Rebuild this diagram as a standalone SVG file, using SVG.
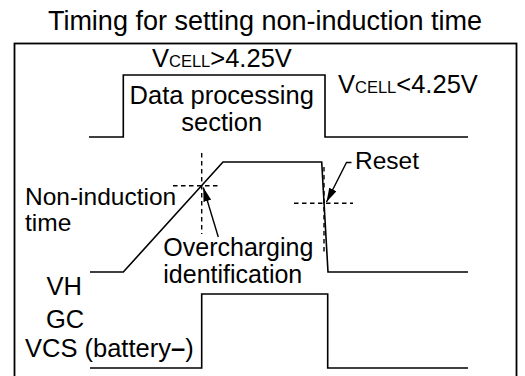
<svg xmlns="http://www.w3.org/2000/svg" width="525" height="376" viewBox="0 0 525 376">
<defs>
<style>
text{font-family:"Liberation Sans",Arial,Helvetica,sans-serif;font-size:25.5px;fill:#000}
.w{fill:none;stroke:#000;stroke-width:1.6;stroke-linejoin:miter}
.d{fill:none;stroke:#000;stroke-width:1.4;stroke-dasharray:4.5 3.5}
.a{fill:none;stroke:#000;stroke-width:1.4}
.sc{font-size:16.5px}
</style>
<marker id="ah" viewBox="0 0 14 8" refX="14" refY="4" markerWidth="14" markerHeight="8" markerUnits="userSpaceOnUse" orient="auto">
<path d="M0,0 L14,4 L0,8 Z" fill="#000"/>
</marker>
</defs>
<rect width="525" height="376" fill="#fff"/>
<text id="title" x="265" y="29.5" text-anchor="middle" style="font-size:27px">Timing for setting non-induction time</text>
<rect id="frame" x="14.5" y="43.5" width="502" height="340" fill="none" stroke="#000" stroke-width="1.8"/>
<g id="data-processing">
<path class="w" d="M89,137 H123.3 V75 H325 V137 H468"/>
<text x="152" y="66.5">V<tspan class="sc">CELL</tspan>&gt;4.25V</text>
<text x="221.7" y="104" text-anchor="middle">Data processing</text>
<text x="221.7" y="131" text-anchor="middle">section</text>
<text x="338" y="93.3">V<tspan class="sc">CELL</tspan>&lt;4.25V</text>
</g>
<g id="vh">
<path class="w" d="M90,272 H123.3 L223,162 H321.7 L328,272 H468"/>
<text x="46.5" y="295">VH</text>
<text x="25" y="205" style="font-size:24.5px">Non-induction</text>
<text x="25" y="231" style="font-size:24.5px">time</text>
</g>
<g id="gc">
<path class="w" d="M90,368 H201.7 V294 H327.7 V368 H468"/>
<text x="46" y="328">GC</text>
<text x="25" y="357">VCS (battery<tspan font-weight="bold">–</tspan>)</text>
</g>
<g id="overcharging">
<text x="163.3" y="255.5" style="font-size:25px">Overcharging</text>
<text x="163.3" y="282.5" style="font-size:25px">identification</text>
</g>
<g id="reset">
<text x="355" y="169.3" style="font-size:24.5px">Reset</text>
</g>
<g id="connectors">
<line class="d" x1="201.7" y1="153" x2="201.7" y2="234"/>
<line class="d" x1="173" y1="185.7" x2="218" y2="185.7"/>
<line class="d" x1="324" y1="167" x2="324" y2="252"/>
<line class="d" x1="294" y1="203.3" x2="353" y2="203.3"/>
<line class="a" x1="218.3" y1="237" x2="203.3" y2="187.5" marker-end="url(#ah)"/>
<polyline class="a" points="351.5,162.5 346.5,162.5 326.5,202" marker-end="url(#ah)"/>
</g>
</svg>
